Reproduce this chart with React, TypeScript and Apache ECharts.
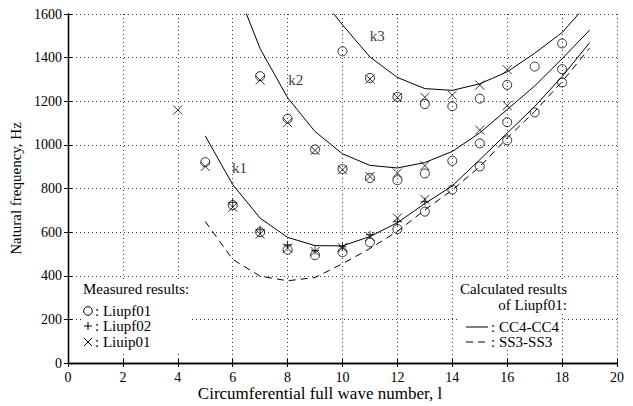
import React, { useEffect, useRef } from "react";
import * as echarts from "echarts";

const FONT = "'Liberation Serif', 'Times New Roman', serif";

// ---- Calculated results of Liupf01 (lines) ----
// CC4-CC4, mode k1 (l = 5..19)
const ccK1L = [5, 6, 7, 8, 9, 10, 11, 12, 13, 14, 15, 16, 17, 18, 19];
const ccK1Hz = [1041, 818, 664, 576, 538, 537, 580, 643, 731, 812, 932, 1054, 1176, 1313, 1468];
// CC4-CC4, mode k2 (l = 6..19)
const ccK2L = [6, 7, 8, 9, 10, 11, 12, 13, 14, 15, 16, 17, 18, 19];
const ccK2Hz = [1760, 1441, 1216, 1061, 959, 906, 894, 919, 970, 1055, 1162, 1270, 1395, 1526];
// CC4-CC4, mode k3 (l = 9..19)
const ccK3L = [9, 10, 11, 12, 13, 14, 15, 16, 17, 18, 19];
const ccK3Hz = [1710, 1550, 1403, 1309, 1258, 1250, 1280, 1335, 1420, 1515, 1657];
// SS3-SS3, mode k1 (l = 5..19)
const ssK1L = [5, 6, 7, 8, 9, 10, 11, 12, 13, 14, 15, 16, 17, 18, 19];
const ssK1Hz = [649, 475, 398, 377, 392, 455, 525, 603, 702, 793, 900, 1031, 1153, 1290, 1443];

// ---- Measured results ----
// Liupf01 (circles)
const liupf01L = [5, 6, 7, 8, 9, 10, 11, 12, 13, 14, 15, 16, 17, 18,
  7, 8, 9, 10, 11, 12, 13, 14, 15, 16, 18,
  10, 11, 12, 13, 14, 15, 16, 17, 18];
const liupf01Hz = [921, 724, 600, 519, 494, 508, 553, 614, 694, 795, 901, 1021, 1149, 1286,
  1315, 1120, 979, 889, 848, 838, 869, 927, 1007, 1104, 1347,
  1429, 1307, 1220, 1187, 1177, 1212, 1275, 1359, 1465];
// Liupf02 (plus)
const liupf02L = [6, 7, 8, 9, 10, 11, 12, 13];
const liupf02Hz = [736, 611, 542, 516, 533, 588, 648, 740];
// Liuip01 (crosses)
const liuip01L = [4, 5, 6, 7, 8, 9, 10, 11, 12, 13,
  7, 8, 9, 10, 11, 12, 13, 15, 16,
  11, 12, 13, 14, 15, 16];
const liuip01Hz = [1160, 901, 714, 591, 527, 511, 529, 580, 665, 750,
  1297, 1102, 975, 886, 855, 871, 905, 1068, 1180,
  1302, 1217, 1218, 1228, 1274, 1345];

// Mode labels
const modeNames = ["k1", "k2", "k3"];
const modeL = [6.25, 8.3, 11.27];
const modeHz = [895, 1298, 1497];

const X_NAME = "Circumferential full wave number, l";
const Y_NAME = "Natural frequency, Hz";

const zip = (xs: number[], ys: number[]) => xs.map((x, i) => [x, ys[i]]);

const CROSS = "path://M0 0L10 10M10 0L0 10";
const PLUS = "path://M5 0L5 10M0 5L10 5";

export default function App() {
  const ref = useRef<HTMLDivElement>(null);
  useEffect(() => {
    if (!ref.current) return;
    const chart = echarts.init(ref.current, null, { renderer: "svg" });
    const txt = { color: "#000", fontFamily: FONT, fontSize: 14 };
    const F = `15px ${FONT}`;
    const lineSeries = (l: number[], hz: number[], dashed = false) => ({
      type: "line",
      data: zip(l, hz),
      symbol: "none",
      silent: true,
      clip: true,
      z: 3,
      lineStyle: { color: "#000", width: 1, type: dashed ? [7, 5] : "solid" },
    });
    const markerStyle = { color: "rgba(0,0,0,0)", borderColor: "#000", borderWidth: 1 };
    const plain = (v: number) => String(v);
    chart.setOption({
      animation: false,
      backgroundColor: "#fff",
      textStyle: { fontFamily: FONT },
      grid: { left: 68, right: 16, top: 14, bottom: 43 },
      xAxis: [
        {
          type: "value", min: 0, max: 20, interval: 2, position: "bottom",
          axisLine: { show: true, lineStyle: { color: "#000", width: 1.3 } },
          axisTick: { show: true, inside: true, length: 4, lineStyle: { color: "#000" } },
          axisLabel: { ...txt, margin: 7, formatter: plain },
          splitLine: { show: true, lineStyle: { color: "#333", type: [1, 3], width: 1 } },
        },
        {
          type: "value", min: 0, max: 20, interval: 2, position: "top",
          axisLine: { show: true, lineStyle: { color: "#000", width: 1.3 } },
          axisTick: { show: true, inside: true, length: 4, lineStyle: { color: "#000" } },
          axisLabel: { show: false },
          splitLine: { show: false },
        },
      ],
      yAxis: [
        {
          type: "value", min: 0, max: 1600, interval: 200, position: "left",
          axisLine: { show: true, lineStyle: { color: "#000", width: 1.3 } },
          axisTick: { show: true, inside: true, length: 4, lineStyle: { color: "#000" } },
          axisLabel: { ...txt, margin: 6, formatter: plain },
          splitLine: { show: true, lineStyle: { color: "#333", type: [1, 3], width: 1 } },
          name: Y_NAME,
          nameLocation: "middle", nameGap: 24,
          nameTextStyle: { ...txt, fontSize: 15 },
        },
        {
          type: "value", min: 0, max: 1600, interval: 200, position: "right",
          axisLine: { show: true, lineStyle: { color: "#000", width: 1.3 } },
          axisTick: { show: true, inside: true, length: 4, lineStyle: { color: "#000" } },
          axisLabel: { show: false },
          splitLine: { show: false },
        },
      ],
      series: [
        lineSeries(ccK1L, ccK1Hz),
        lineSeries(ccK2L, ccK2Hz),
        lineSeries(ccK3L, ccK3Hz),
        lineSeries(ssK1L, ssK1Hz, true),
        {
          type: "scatter", data: zip(liupf01L, liupf01Hz), symbol: "circle", symbolSize: 9,
          itemStyle: markerStyle, z: 4, silent: true,
        },
        {
          type: "scatter", data: zip(liupf02L, liupf02Hz), symbol: PLUS, symbolSize: 8,
          itemStyle: markerStyle, z: 4, silent: true,
        },
        {
          type: "scatter", data: zip(liuip01L, liuip01Hz), symbol: CROSS, symbolSize: 9,
          itemStyle: markerStyle, z: 4, silent: true,
        },
        {
          type: "scatter",
          data: modeNames.map((n, i) => ({ name: n, value: [modeL[i], modeHz[i]] })),
          symbolSize: 1, itemStyle: { color: "rgba(0,0,0,0)", borderWidth: 0 }, silent: true, z: 5,
          label: {
            show: true, position: "inside", formatter: "{b}",
            color: "#000", fontFamily: FONT, fontSize: 15,
            textBorderWidth: 0, textBorderColor: "transparent", textShadowBlur: 0,
          },
        },
      ],
      graphic: [
        // X axis title
        { type: "text", x: 320, y: 393, style: { text: X_NAME, font: `17px ${FONT}`, fill: "#000", align: "center", verticalAlign: "middle" }, z: 11 },
        // Left legend: measured results
        { type: "rect", shape: { x: 81, y: 281, width: 109, height: 70 }, style: { fill: "#fff" }, z: 10 },
        { type: "text", x: 83, y: 289, style: { text: "Measured results:", font: F, fill: "#000", verticalAlign: "middle" }, z: 11 },
        { type: "circle", shape: { cx: 88, cy: 311, r: 4.3 }, style: { fill: "none", stroke: "#000", lineWidth: 1 }, z: 11 },
        { type: "text", x: 95, y: 311, style: { text: ": Liupf01", font: F, fill: "#000", verticalAlign: "middle" }, z: 11 },
        { type: "line", shape: { x1: 84, y1: 326, x2: 92, y2: 326 }, style: { stroke: "#000", lineWidth: 1 }, z: 11 },
        { type: "line", shape: { x1: 88, y1: 322, x2: 88, y2: 330 }, style: { stroke: "#000", lineWidth: 1 }, z: 11 },
        { type: "text", x: 95, y: 326, style: { text: ": Liupf02", font: F, fill: "#000", verticalAlign: "middle" }, z: 11 },
        { type: "line", shape: { x1: 84, y1: 338, x2: 92, y2: 346 }, style: { stroke: "#000", lineWidth: 1 }, z: 11 },
        { type: "line", shape: { x1: 92, y1: 338, x2: 84, y2: 346 }, style: { stroke: "#000", lineWidth: 1 }, z: 11 },
        { type: "text", x: 95, y: 342, style: { text: ": Liuip01", font: F, fill: "#000", verticalAlign: "middle" }, z: 11 },
        // Right legend: calculated results
        { type: "rect", shape: { x: 457, y: 281, width: 104, height: 68 }, style: { fill: "#fff" }, z: 10 },
        { type: "text", x: 567, y: 289, style: { text: "Calculated results", font: F, fill: "#000", align: "right", verticalAlign: "middle", backgroundColor: "#fff" }, z: 11 },
        { type: "text", x: 567, y: 305, style: { text: "of Liupf01:", font: F, fill: "#000", align: "right", verticalAlign: "middle", backgroundColor: "#fff" }, z: 11 },
        { type: "line", shape: { x1: 466, y1: 327, x2: 488, y2: 327 }, style: { stroke: "#000", lineWidth: 1 }, z: 11 },
        { type: "text", x: 491, y: 327, style: { text: ": CC4-CC4", font: F, fill: "#000", verticalAlign: "middle" }, z: 11 },
        { type: "line", shape: { x1: 466, y1: 342, x2: 488, y2: 342 }, style: { stroke: "#000", lineWidth: 1, lineDash: [7, 5] }, z: 11 },
        { type: "text", x: 491, y: 342, style: { text: ": SS3-SS3", font: F, fill: "#000", verticalAlign: "middle" }, z: 11 },
      ],
    });
    return () => chart.dispose();
  }, []);
  return (
    <div
      ref={ref}
      style={{ position: "fixed", left: 0, top: 0, width: 633, height: 406, background: "#fff" }}
    />
  );
}
